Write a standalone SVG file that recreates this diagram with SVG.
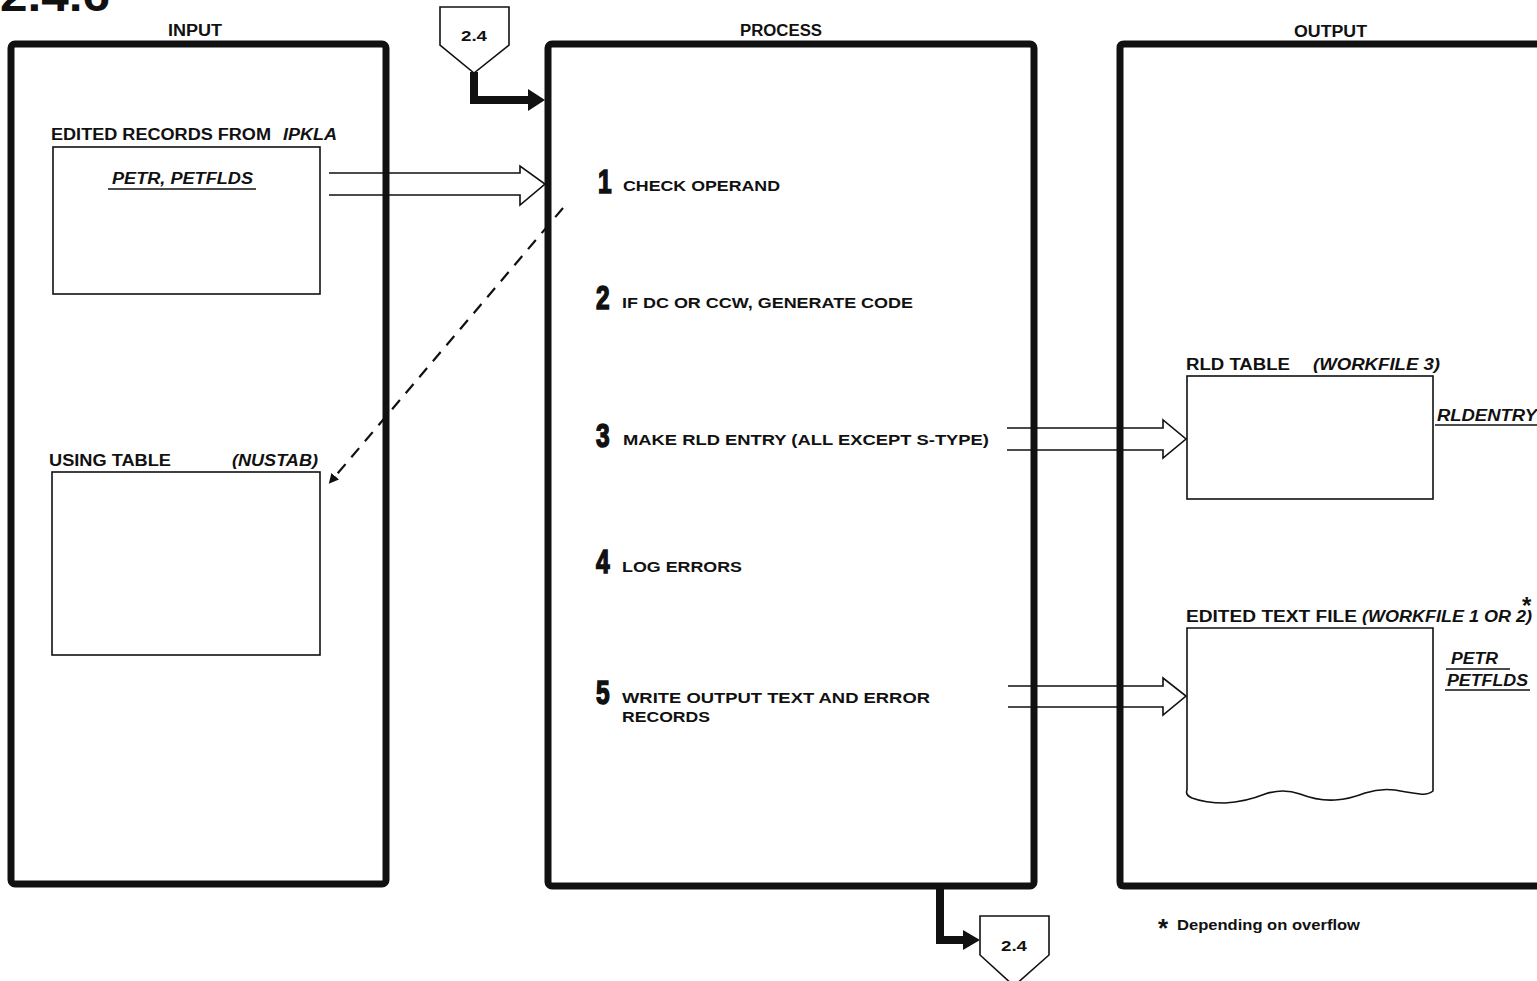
<svg xmlns="http://www.w3.org/2000/svg" width="1537" height="981" viewBox="0 0 1537 981">
<style>
text{font-family:"Liberation Sans",Arial,sans-serif;font-weight:bold;fill:#111}
.it{font-style:italic}
.h{font-size:16px}
.l{font-size:16px}
.s{font-size:15px}
.num{font-size:34px;stroke:#111;stroke-width:1.6}
.panel{fill:none;stroke:#111;stroke-width:7}
.box{fill:none;stroke:#111;stroke-width:1.6}
.ul{stroke:#111;stroke-width:1.6}
.wide{fill:none;stroke:#111;stroke-width:1.6;stroke-linejoin:miter}
.thick{fill:none;stroke:#111;stroke-width:8}
.conn{fill:#fff;stroke:#111;stroke-width:1.6}
</style>
<defs>
<marker id="dash" markerWidth="10" markerHeight="10" refX="5" refY="5" orient="auto" markerUnits="userSpaceOnUse">
<path d="M0,0 L10,5 L0,10 Z" fill="#111"/>
</marker>
</defs>
<rect width="1537" height="981" fill="#fff"/>
<text x="0" y="11" style="font-size:44px" textLength="110" lengthAdjust="spacingAndGlyphs">2.4.6</text>

<g id="input">
<rect class="panel" x="11" y="44" width="375" height="840" rx="4"/>
<text class="h" x="168" y="36" textLength="54" lengthAdjust="spacingAndGlyphs">INPUT</text>
</g>
<g id="process">
<rect class="panel" x="548" y="44" width="486" height="842" rx="4"/>
<text class="h" x="740" y="36" textLength="82" lengthAdjust="spacingAndGlyphs">PROCESS</text>
<text class="num" x="598" y="193" transform="translate(598 0) scale(0.72 1) translate(-598 0)">1</text>
<text class="s" x="623" y="191" textLength="157" lengthAdjust="spacingAndGlyphs">CHECK OPERAND</text>
<text class="num" x="596" y="309" transform="translate(596 0) scale(0.72 1) translate(-596 0)">2</text>
<text class="s" x="622" y="308" textLength="291" lengthAdjust="spacingAndGlyphs">IF DC OR CCW, GENERATE CODE</text>
<text class="num" x="596" y="447" transform="translate(596 0) scale(0.72 1) translate(-596 0)">3</text>
<text class="s" x="623" y="445" textLength="366" lengthAdjust="spacingAndGlyphs">MAKE RLD ENTRY (ALL EXCEPT S-TYPE)</text>
<text class="num" x="596" y="573" transform="translate(596 0) scale(0.72 1) translate(-596 0)">4</text>
<text class="s" x="622" y="572" textLength="120" lengthAdjust="spacingAndGlyphs">LOG ERRORS</text>
<text class="num" x="596" y="704" transform="translate(596 0) scale(0.72 1) translate(-596 0)">5</text>
<text class="s" x="622" y="703" textLength="308" lengthAdjust="spacingAndGlyphs">WRITE OUTPUT TEXT AND ERROR</text>
<text class="s" x="622" y="722" textLength="88" lengthAdjust="spacingAndGlyphs">RECORDS</text>
</g>
<g id="output">
<path class="panel" d="M1545,44 L1124,44 Q1120,44 1120,48 L1120,882 Q1120,886 1124,886 L1545,886"/>
<text class="h" x="1294" y="37" textLength="73" lengthAdjust="spacingAndGlyphs">OUTPUT</text>
</g>

<g id="edited-records">
<rect class="box" x="53" y="147" width="267" height="147"/>
<text class="l" x="51" y="140" textLength="220" lengthAdjust="spacingAndGlyphs">EDITED RECORDS FROM</text>
<text class="l it" x="283" y="140" textLength="54" lengthAdjust="spacingAndGlyphs">IPKLA</text>
<text class="l it" x="112" y="184" textLength="141" lengthAdjust="spacingAndGlyphs">PETR, PETFLDS</text>
<line class="ul" x1="108" y1="189" x2="256" y2="189"/>
</g>
<g id="using-table">
<rect class="box" x="52" y="472" width="268" height="183"/>
<text class="l" x="49" y="466" textLength="122" lengthAdjust="spacingAndGlyphs">USING TABLE</text>
<text class="l it" x="232" y="466" textLength="86" lengthAdjust="spacingAndGlyphs">(NUSTAB)</text>
</g>
<g id="rld-table">
<rect class="box" x="1187" y="376" width="246" height="123"/>
<text class="l" x="1186" y="370" textLength="104" lengthAdjust="spacingAndGlyphs">RLD TABLE</text>
<text class="l it" x="1313" y="370" textLength="127" lengthAdjust="spacingAndGlyphs">(WORKFILE 3)</text>
<text class="l it" x="1437" y="421" textLength="100" lengthAdjust="spacingAndGlyphs">RLDENTRY</text>
<line class="ul" x1="1435" y1="425" x2="1537" y2="425"/>
</g>
<g id="edited-text-file">
<path class="box" d="M1187,628 L1433,628 L1433,791 Q1428,795 1420,794 Q1405,792 1395,790 Q1380,788 1365,793 Q1350,799 1335,800 Q1318,801 1300,794 Q1283,788 1265,794 Q1245,802 1225,803 Q1205,803 1192,798 Q1185,795 1187,790 Z"/>
<text class="l" x="1186" y="622" textLength="171" lengthAdjust="spacingAndGlyphs">EDITED TEXT FILE</text>
<text class="l it" x="1362" y="622" textLength="170" lengthAdjust="spacingAndGlyphs">(WORKFILE 1 OR 2)</text>
<text style="font-size:24px" x="1522" y="614">*</text>
<text class="l it" x="1451" y="664" textLength="47" lengthAdjust="spacingAndGlyphs">PETR</text>
<line class="ul" x1="1446" y1="669" x2="1510" y2="669"/>
<text class="l it" x="1447" y="686" textLength="81" lengthAdjust="spacingAndGlyphs">PETFLDS</text>
<line class="ul" x1="1445" y1="690" x2="1530" y2="690"/>
</g>
<g id="conn-top">
<path class="conn" d="M440,7 L509,7 L509,45 L474,73 L440,45 Z"/>
<text class="s" x="461" y="41" textLength="26" lengthAdjust="spacingAndGlyphs">2.4</text>
</g>
<g id="conn-bottom">
<path class="conn" d="M980,916 L1049,916 L1049,955 L1014,986 L980,955 Z"/>
<text class="s" x="1001" y="951" textLength="26" lengthAdjust="spacingAndGlyphs">2.4</text>
</g>
<g id="footnote">
<text style="font-size:26px" x="1158" y="937">*</text>
<text style="font-size:15px" x="1177" y="930" textLength="183" lengthAdjust="spacingAndGlyphs">Depending on overflow</text>
</g>

<g id="connectors">
<path class="thick" d="M474,72 L474,100 L530,100"/>
<path d="M528,89 L545,100 L528,111 Z" fill="#111"/>
<path class="thick" d="M940,886 L940,940 L965,940"/>
<path d="M963,930 L980,940 L963,950 Z" fill="#111"/>
<path class="wide" d="M329,173 L520,173 L520,166 L545,184 L520,205 L520,195 L329,195"/>
<path class="wide" d="M1007,428 L1163,428 L1163,420 L1186,439 L1163,458 L1163,450 L1007,450"/>
<path class="wide" d="M1008,686 L1163,686 L1163,678 L1186,696 L1163,715 L1163,707 L1008,707"/>
<line x1="563" y1="208" x2="332" y2="480" stroke="#111" stroke-width="2.2" stroke-dasharray="12,9" marker-end="url(#dash)"/>
</g>
</svg>
